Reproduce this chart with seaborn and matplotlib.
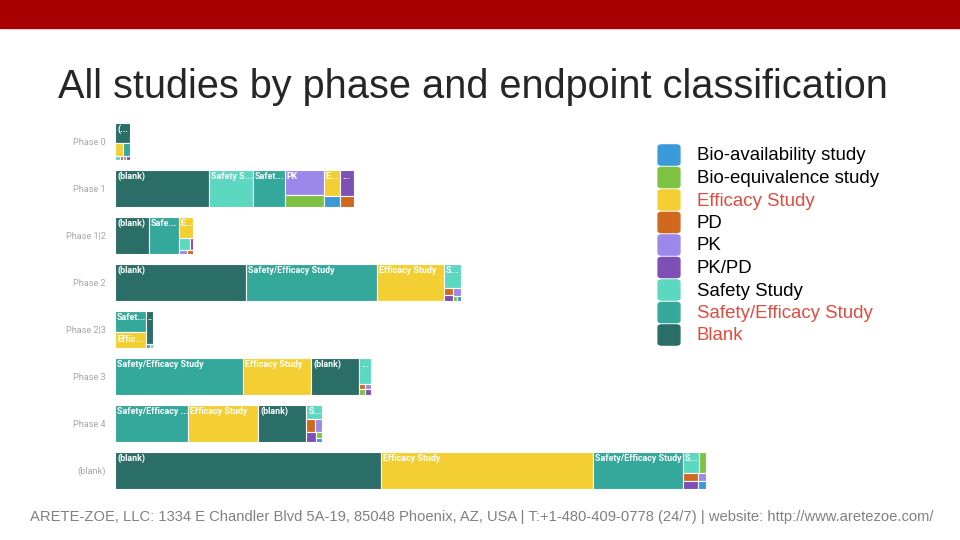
import matplotlib
matplotlib.use("Agg")
import matplotlib.pyplot as plt
from matplotlib.patches import FancyBboxPatch, Rectangle
from matplotlib import font_manager
import seaborn as sns

# estimated number of studies per phase, read off the tile areas
PHASES = ["Phase 0", "Phase 1", "Phase 1|2", "Phase 2", "Phase 2|3", "Phase 3", "Phase 4", "(blank)"]
CATEGORIES = ["Bio-availability study", "Bio-equivalence study", "Efficacy Study", "PD", "PK",
              "PK/PD", "Safety Study", "Safety/Efficacy Study", "(blank)"]
LEGEND_LABELS = ["Bio-availability study", "Bio-equivalence study", "Efficacy Study", "PD", "PK",
                 "PK/PD", "Safety Study", "Safety/Efficacy Study", "Blank"]
HIGHLIGHTED = ["Efficacy Study", "Safety/Efficacy Study", "Blank"]

#            BioAv BioEq  Eff   PD   PK  PK/PD Safety SafEff blank
phase_0     = [0,    0,    22,   2,   2,   2,    3,     17,    59]
phase_1     = [33,   89,   87,   28,  199, 74,   323,   235,   690]
phase_1_2   = [0,    0,    63,   5,   6,   9,    27,    220,   247]
phase_2     = [3,    4,    491,  12,  10,  11,   83,    960,   966]
phase_2_3   = [3,    0,    95,   0,   0,   0,    2,     132,   49]
phase_3     = [0,    6,    504,  7,   6,   6,    60,    938,   353]
phase_4     = [5,    8,    514,  23,  19,  18,   46,    540,   352]
phase_blank = [10,   28,   1558, 26,  12,  22,   68,    660,   1957]
ROWS = [phase_0, phase_1, phase_1_2, phase_2, phase_2_3, phase_3, phase_4, phase_blank]

COLORS = ["#3A9AD9", "#7DC242", "#F4CF34", "#D0691F", "#9B88EA", "#7E4FB5", "#5DD8C0", "#35A89C", "#2A6E67"]

TITLE = "All studies by phase and endpoint classification"
FOOTER = ("ARETE-ZOE, LLC: 1334 E Chandler Blvd 5A-19, 85048 Phoenix, AZ, USA | "
          "T:+1-480-409-0778 (24/7) | website: http://www.aretezoe.com/")

STUDIES_PER_UNIT = 272   # studies per (row height)^2
ROW_PX = 37
PITCH = 47 / 37
PHI = (1 + 5 ** 0.5) / 2


def squarify(values, x0, y0, x1, y1):
    # squarified treemap, golden ratio target (same rule as d3)
    rects = [None] * len(values)
    total = float(sum(values))
    i0, n = 0, len(values)
    while i0 < n:
        dx, dy = x1 - x0, y1 - y0
        s = values[i0]
        i1 = i0 + 1
        vmin = vmax = s
        alpha = max(dy / dx, dx / dy) / (total * PHI)
        beta = s * s * alpha
        best = max(vmax / beta, beta / vmin)
        while i1 < n:
            v = values[i1]
            s2 = s + v
            beta = s2 * s2 * alpha
            r = max(max(vmax, v) / beta, beta / min(vmin, v))
            if r > best:
                break
            s, best = s2, r
            vmin, vmax = min(vmin, v), max(vmax, v)
            i1 += 1
        if dx < dy:
            h = dy * s / total
            x = x0
            for i in range(i0, i1):
                w = dx * values[i] / s
                rects[i] = (x, y0, w, h)
                x += w
            y0 += h
        else:
            w = dx * s / total
            y = y0
            for i in range(i0, i1):
                hh = dy * values[i] / s
                rects[i] = (x0, y, w, hh)
                y += hh
            x0 += w
        total -= s
        i0 = i1
    return rects


def pick_font(*names):
    have = {f.name for f in font_manager.fontManager.ttflist}
    for nm in names:
        if nm in have:
            return nm
    return "DejaVu Sans"


sns.set_theme(style="white")
sans = pick_font("Liberation Sans", "Arial")
narrow = pick_font("Liberation Sans Narrow", "Liberation Sans")
label_font = pick_font("Roboto", "Open Sans")
plt.rcParams["font.family"] = [sans, "DejaVu Sans"]

fig = plt.figure(figsize=(9.6, 5.4), dpi=100)
renderer = fig.canvas.get_renderer()

ax_h = 7 * 47 + ROW_PX
ax_w = 610
ax = fig.add_axes([115 / 960, 1 - (122.5 + ax_h) / 540, ax_w / 960, ax_h / 540])
ax.set_xlim(0, ax_w / ROW_PX)
ax.set_ylim(ax_h / ROW_PX, 0)

for r, counts in enumerate(ROWS):
    items = [(c, k) for c, k in zip(counts, range(len(CATEGORIES))) if c > 0]
    items.sort(key=lambda t: -t[0])
    vals = [c for c, _ in items]
    top = r * PITCH
    width = sum(vals) / STUDIES_PER_UNIT
    rects = squarify(vals, 0.0, top, width, top + 1.0)
    for (c, k), (x, y, w, h) in zip(items, rects):
        ax.bar(x, h, width=w, bottom=y, align="edge", color=COLORS[k],
               edgecolor="white", linewidth=0.8)
        w_px, h_px = w * ROW_PX, h * ROW_PX
        # small tiles get no label
        if h_px < 13 or w_px < 6 or w_px * h_px < 150:
            continue
        name = CATEGORIES[k]
        t = ax.text(x + 2 / ROW_PX, y + 2.5 / ROW_PX, name, color="white",
                    fontsize=6.4, fontweight="bold", family=label_font, ha="left", va="top")
        options = [name] + [name[:j] + "..." for j in range(len(name) - 1, -1, -1)] + ["..", "."]
        for opt in options:
            t.set_text(opt)
            if t.get_window_extent(renderer).width <= w_px - 1.5:
                break
        else:
            t.set_text("")

ax.set_xticks([])
ax.set_yticks([i * PITCH + 0.5 for i in range(len(PHASES))], PHASES)
ax.tick_params(axis="y", length=0, pad=6.5, labelcolor="#a6a6a6", labelsize=6.6)
for lbl in ax.get_yticklabels():
    lbl.set_fontfamily(label_font)
sns.despine(ax=ax, left=True, bottom=True)

# red banner
fig.patches.append(Rectangle((0, 1 - 28 / 540), 1, 28 / 540, transform=fig.transFigure,
                             color="#A80000", zorder=0))


def fit_width(t, target_px):
    wpx = t.get_window_extent(renderer).width
    t.set_fontsize(t.get_fontsize() * target_px / wpx)


title = fig.text(58 / 960, 1 - 98 / 540, TITLE, family=narrow, fontsize=34,
                 color="#262626", ha="left", va="baseline")
fit_width(title, 829)

foot = fig.text(30 / 960, 1 - 521 / 540, FOOTER, family=narrow, fontsize=11,
                color="#808080", ha="left", va="baseline")
fit_width(foot, 900)

# legend
for i, lab in enumerate(LEGEND_LABELS):
    yc = 155 + 22.5 * i
    fig.patches.append(FancyBboxPatch((660 / 960, 1 - (yc + 9) / 540), 18 / 960, 18 / 540,
                                      boxstyle="round,pad=0.002,rounding_size=0.004",
                                      transform=fig.transFigure, color=COLORS[i]))
    tc = "#E04A3F" if lab in HIGHLIGHTED else "black"
    lt = fig.text(697 / 960, 1 - (yc + 1) / 540, lab, family=sans, fontsize=12, color=tc,
                  ha="left", va="center")
    if lab == "Bio-equivalence study":
        fit_width(lt, 183)
        leg_size = lt.get_fontsize()
for t in fig.texts[2:]:
    t.set_fontsize(leg_size)

fig.savefig("out.png", dpi=100)
